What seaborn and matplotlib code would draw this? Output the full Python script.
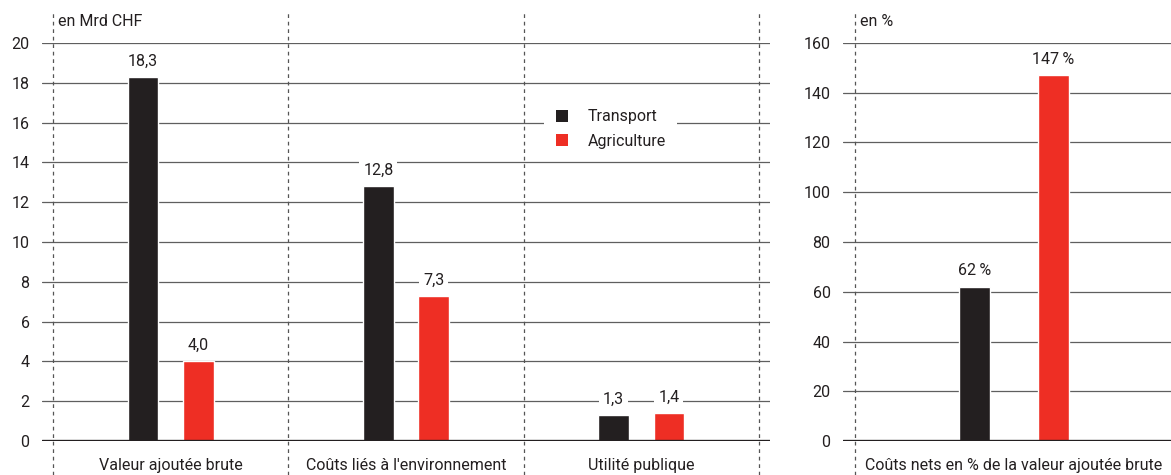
import matplotlib
matplotlib.use("Agg")
import matplotlib.pyplot as plt
import matplotlib.transforms as mtransforms
import seaborn as sns
import pandas as pd
from matplotlib.patches import Patch

# ---- data ----
categories = ["Valeur ajoutée brute", "Coûts liés à l'environnement", "Utilité publique"]
transport = [18.3, 12.8, 1.3]
agriculture = [4.0, 7.3, 1.4]
left_labels_t = ["18,3", "12,8", "1,3"]
left_labels_a = ["4,0", "7,3", "1,4"]

pct_category = ["Coûts nets en % de la valeur ajoutée brute"]
pct_transport = [62]
pct_agriculture = [147]
pct_labels_t = ["62\u2009%"]
pct_labels_a = ["147\u2009%"]

series = ["Transport", "Agriculture"]
left_ticks = [0, 2, 4, 6, 8, 10, 12, 14, 16, 18, 20]
right_ticks = [0, 20, 40, 60, 80, 100, 120, 140, 160]

BLACK = "#231f20"
RED = "#ee2e24"
GRID = "#5f5f5f"
TXT = "#231f20"

sns.set_style("white")
plt.rcParams["font.family"] = ["Roboto", "DejaVu Sans"]
plt.rcParams["text.color"] = TXT
FS = 11.5

df_left = pd.DataFrame({
    "cat": categories * 2,
    "val": transport + agriculture,
    "series": [series[0]] * 3 + [series[1]] * 3,
})
df_right = pd.DataFrame({
    "cat": pct_category * 2,
    "val": pct_transport + pct_agriculture,
    "series": [series[0], series[1]],
})

fig = plt.figure(figsize=(11.71, 4.75), dpi=100)
axL = fig.add_axes([42 / 1171, 34 / 475, 728 / 1171, 398 / 475])
axR = fig.add_axes([843 / 1171, 34 / 475, 328 / 1171, 398 / 475])

pal = {series[0]: BLACK, series[1]: RED}
sns.barplot(data=df_left, x="cat", y="val", hue="series", palette=pal,
            width=0.47, gap=0.45, ax=axL, legend=False, saturation=1)
sns.barplot(data=df_right, x="cat", y="val", hue="series", palette=pal,
            width=0.5, gap=0.61, ax=axR, legend=False, saturation=1)


def style(ax, ticks, ymax, xlim, vlines):
    ax.set_xlim(*xlim)
    ax.set_ylim(0, ymax)
    ax.set_yticks(ticks)
    ax.set_yticklabels([str(t) for t in ticks], fontsize=FS, color=TXT)
    for s in ax.spines.values():
        s.set_visible(False)
    ax.tick_params(axis="both", length=0)
    ax.tick_params(axis="y", pad=9)
    ax.tick_params(axis="x", pad=12, labelsize=FS, labelcolor=TXT)
    ax.set_xlabel("")
    ax.set_ylabel("")
    for t in ticks[1:]:
        ax.axhline(t, color=GRID, lw=0.9, zorder=0.5)
    ax.axhline(0, color=BLACK, lw=2.4, zorder=3)
    for v in vlines:
        ax.axvline(v, ymin=-0.085, ymax=1.078, color="#555555", lw=0.9,
                   ls=(0, (3, 3)), clip_on=False, zorder=0.6)


style(axL, left_ticks, 20, (-0.547, 2.547), [-0.5, 0.5, 1.5, 2.5])
style(axR, right_ticks, 160, (-0.538, 0.495), [-0.5])

bbox = dict(boxstyle="square,pad=0.25", fc="white", ec="none")
for cont, labs in zip(axL.containers, [left_labels_t, left_labels_a]):
    axL.bar_label(cont, labels=labs, padding=6, fontsize=FS, color=TXT, bbox=bbox)
for cont, labs in zip(axR.containers, [pct_labels_t, pct_labels_a]):
    axR.bar_label(cont, labels=labs, padding=6, fontsize=FS, color=TXT, bbox=bbox)

axL.text(-0.5 + 0.02, 1.035, "en Mrd CHF",
         transform=mtransforms.blended_transform_factory(axL.transData, axL.transAxes),
         fontsize=FS, color=TXT, va="bottom", ha="left")
axR.text(-0.5 + 0.015, 1.035, "en %",
         transform=mtransforms.blended_transform_factory(axR.transData, axR.transAxes),
         fontsize=FS, color=TXT, va="bottom", ha="left")

handles = [Patch(facecolor=BLACK, edgecolor="none", label=series[0]),
           Patch(facecolor=RED, edgecolor="none", label=series[1])]
leg = axL.legend(handles=handles, loc="center left", bbox_to_anchor=(0.69, 0.784),
                 frameon=True, fontsize=FS, handlelength=0.8, handleheight=0.8,
                 handletextpad=1.2, borderpad=0.7, labelspacing=0.6, borderaxespad=0)
leg.get_frame().set_facecolor("white")
leg.get_frame().set_edgecolor("none")
leg.get_frame().set_alpha(1)
leg.get_frame().set_boxstyle("square", pad=0)
leg.set_zorder(5)
for t in leg.get_texts():
    t.set_color(TXT)

fig.savefig("out.png", dpi=100)
